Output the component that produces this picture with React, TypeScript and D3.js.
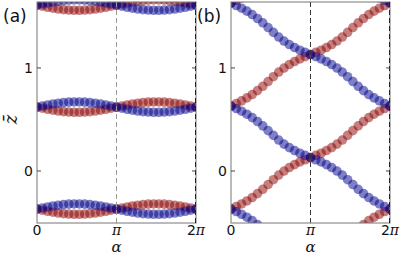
import React from 'react';
import * as d3 from 'd3';

// alpha samples: k = 0..30 across [0, 2π]
const nSamples = 31;

// panel (a): flat bands split into a thin lens
const levelsA = [-0.37, 0.62, 1.61];
const splitA = [
  0, 0.011, 0.021, 0.03, 0.038, 0.044, 0.048, 0.05, 0.05, 0.048, 0.044, 0.038, 0.03, 0.021, 0.011, 0,
  -0.011, -0.021, -0.03, -0.038, -0.044, -0.048, -0.05, -0.05, -0.048, -0.044, -0.038, -0.03, -0.021, -0.011, 0,
];

// panel (b): red climbs, blue falls, one unit per 2π
const redLevelsB = [-1.37, -0.37, 0.63, 1.63];
const blueLevelsB = [2.63, 1.63, 0.63, -0.37];
const riseB = [
  0, 0.024, 0.05, 0.079, 0.112, 0.15, 0.192, 0.238, 0.285, 0.33, 0.369, 0.403, 0.432, 0.458, 0.479, 0.5,
  0.521, 0.542, 0.568, 0.597, 0.631, 0.67, 0.715, 0.762, 0.808, 0.85, 0.888, 0.921, 0.95, 0.976, 1,
];

const yTicks = [0, 1];
const xTickLabels = ['0', 'π', '2π'];

const RED = '#8b0000';
const BLUE = '#00008b';

type Series = { color: string; values: number[] };

const seriesA: Series[] = levelsA.flatMap((L) => [
  { color: RED, values: splitA.map((d) => L - d) },
  { color: BLUE, values: splitA.map((d) => L + d) },
]);

const seriesB: Series[] = [
  ...redLevelsB.map((L) => ({ color: RED, values: riseB.map((r) => L + r) })),
  ...blueLevelsB.map((L) => ({ color: BLUE, values: riseB.map((r) => L - r) })),
];

const top = 2;
const bottom = 223;
const y = d3.scaleLinear().domain([-0.505, 1.64]).range([bottom, top]);

const Panel: React.FC<{
  id: string;
  left: number;
  right: number;
  series: Series[];
  label: string;
  piColor: string;
}> = ({ id, left, right, series, label, piColor }) => {
  const x = d3.scaleLinear().domain([0, 2 * Math.PI]).range([left, right]);
  const alphas = d3.range(nSamples).map((k) => (k * 2 * Math.PI) / (nSamples - 1));
  const xt = [0, Math.PI, 2 * Math.PI];
  return (
    <g>
      <defs>
        <clipPath id={id}>
          <rect x={left} y={top} width={right - left} height={bottom - top} />
        </clipPath>
      </defs>
      <g clipPath={`url(#${id})`}>
        {series.map((s, i) => (
          <g key={i}>
            {s.values.map((v, k) => (
              <circle key={k} cx={x(alphas[k])} cy={y(v)} r={4.8} fill={s.color} fillOpacity={0.5} />
            ))}
          </g>
        ))}
      </g>
      <line x1={x(Math.PI)} x2={x(Math.PI)} y1={top} y2={bottom} stroke={piColor} strokeDasharray="5,3" />
      <rect x={left} y={top} width={right - left} height={bottom - top} fill="none" stroke="#777" />
      <line x1={x(2 * Math.PI) - 0.5} x2={x(2 * Math.PI) - 0.5} y1={top} y2={bottom} stroke="#222" strokeDasharray="5,3" />
      {yTicks.map((t) => (
        <g key={t}>
          <line x1={left} x2={left + 4} y1={y(t)} y2={y(t)} stroke="#444" />
          <line x1={right - 4} x2={right} y1={y(t)} y2={y(t)} stroke="#444" />
          <text x={left - 4} y={y(t)} dy="0.36em" textAnchor="end" fontSize={14} fontFamily="DejaVu Sans" fill="#111">
            {t}
          </text>
        </g>
      ))}
      {xt.map((t, i) => (
        <text key={i} x={x(t)} y={235} textAnchor="middle" fontSize={14} fontFamily="DejaVu Sans" fill="#111">
          {xTickLabels[i] === '0' ? '0' : (
            <>
              {xTickLabels[i].startsWith('2') ? '2' : ''}
              <tspan fontFamily="DejaVu Serif" fontStyle="italic">π</tspan>
            </>
          )}
        </text>
      ))}
      <text x={(left + right) / 2} y={252} textAnchor="middle" fontSize={15} fontFamily="DejaVu Serif" fontStyle="italic" fill="#111">
        α
      </text>
      <text x={left - 34} y={22} fontSize={17} fontFamily="DejaVu Sans" fill="#111">
        {label}
      </text>
    </g>
  );
};

export default function App() {
  return (
    <svg
      width={402}
      height={255}
      style={{ position: 'absolute', left: 0, top: 0, background: '#fff' }}
    >
      <Panel id="clipA" left={37} right={196} series={seriesA} label="(a)" piColor="#999" />
      <Panel id="clipB" left={231} right={390} series={seriesB} label="(b)" piColor="#333" />
      <text
        transform={`translate(17,${y(0.5)}) rotate(-90)`}
        textAnchor="middle"
        fontSize={18}
        fontFamily="DejaVu Serif"
        fontStyle="italic"
        fill="#111"
      >
        z̄
      </text>
    </svg>
  );
}
